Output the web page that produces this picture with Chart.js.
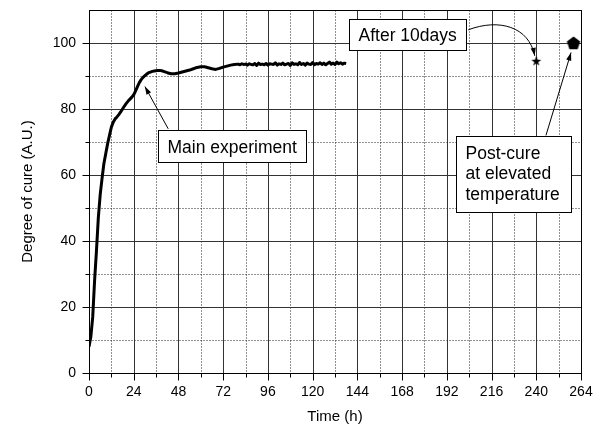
<!DOCTYPE html>
<html><head><meta charset="utf-8">
<script src="https://cdn.jsdelivr.net/npm/chart.js@4.4.1/dist/chart.umd.min.js"></script>
<style>html,body{margin:0;padding:0;background:#fff;}</style>
</head><body>
<canvas id="c" width="598" height="430" style="width:598px;height:430px;display:block"></canvas>
<script>
// ---- data ----
const timeH = [0,1,2,3,4,5,6,7,8,9,10,11,12,13,14,15,16,17,18,19,20,21,22,23,24,25,26,27,28,29,30,31,32,33,34,35,36,37,38,39,40,42,44,46,48,50,52,54,56,58,60,62,64,66,68,70,72,74,76,78,
80,81,82,83,84,85,86,87,88,89,90,91,92,93,94,95,96,97,98,99,100,101,102,103,104,105,106,107,108,109,110,111,112,113,114,115,116,117,118,119,120,121,122,123,124,125,126,127,128,129,130,131,132,133,134,135,136,137,138];
const cure = [8,11,17,28,37,47,54,59,63.5,66.5,69.5,72,74.5,76,77,77.6,78.3,79.1,80,80.9,81.7,82.4,83,83.6,84.3,85.5,86.8,88,88.9,89.6,90.1,90.6,91,91.2,91.4,91.5,91.6,91.7,91.7,91.6,91.4,91.0,90.7,90.7,90.9,91.2,91.5,91.8,92.2,92.6,92.8,92.8,92.5,92.2,92.0,92.3,92.7,93.0,93.3,93.5,
93.6,93.4,93.7,93.5,93.6,93.3,93.7,93.5,93.4,93.8,93.2,93.9,93.5,93.6,93.4,93.8,93.3,93.7,93.6,93.5,94.0,93.3,93.7,93.5,93.9,93.4,93.6,93.8,93.2,94.0,93.5,93.7,93.4,94.1,93.5,93.8,93.3,93.9,93.6,93.5,94.1,93.4,93.8,93.6,94.0,93.5,93.9,93.4,93.8,94.2,93.6,93.9,93.5,94.2,93.7,94.0,93.6,93.9,93.8];
const after10Days = [{x:240, y:94.6}];
const postCure = [{x:260, y:100}];
const xTicks = [0,24,48,72,96,120,144,168,192,216,240,264];
const xMinor = [12,36,60,84,108,132,156,180,204,228,252];
const yTicks = [0,20,40,60,80,100];
const yMinor = [10,30,50,70,90];
const xTitle = 'Time (h)';
const yTitle = 'Degree of cure (A.U.)';

const FONT = '"Liberation Sans", Arial, Helvetica, sans-serif';

// marker images
function makeStar(){
  const c=document.createElement('canvas'); c.width=12; c.height=12;
  const g=c.getContext('2d'); g.fillStyle='#000'; g.beginPath();
  for(let i=0;i<10;i++){const r=i%2?2.1:5.2; const a=-Math.PI/2+i*Math.PI/5; const px=6+r*Math.cos(a), py=6.5+r*Math.sin(a); i?g.lineTo(px,py):g.moveTo(px,py);}
  g.closePath(); g.fill(); return c;
}
function makePentagon(){
  const c=document.createElement('canvas'); c.width=16; c.height=16;
  const g=c.getContext('2d'); g.fillStyle='#000'; g.beginPath();
  for(let i=0;i<5;i++){const a=-Math.PI/2+i*2*Math.PI/5; const px=8+7*Math.cos(a), py=8.6+7*Math.sin(a); i?g.lineTo(px,py):g.moveTo(px,py);}
  g.closePath(); g.fill(); return c;
}

function arrowHead(ctx,x1,y1,ang){
  const L=8,W=2.6;
  ctx.beginPath();
  ctx.moveTo(x1,y1);
  ctx.lineTo(x1-L*Math.cos(ang)+W*Math.sin(ang), y1-L*Math.sin(ang)-W*Math.cos(ang));
  ctx.lineTo(x1-L*Math.cos(ang)-W*Math.sin(ang), y1-L*Math.sin(ang)+W*Math.cos(ang));
  ctx.closePath(); ctx.fill();
}

const gridPlugin = {
  id:'grid',
  beforeDatasetsDraw(chart){
    const {ctx, chartArea:a, scales:{x,y}} = chart;
    const L=Math.round(a.left)+0.5, R=Math.round(a.right)+0.5, T=Math.round(a.top)+0.5, B=Math.round(a.bottom)+0.5;
    ctx.save();
    ctx.lineWidth=1;
    // minor dotted
    ctx.strokeStyle='#222'; ctx.setLineDash([1,2]);
    xMinor.forEach(v=>{const p=Math.round(x.getPixelForValue(v))+0.5; ctx.beginPath(); ctx.moveTo(p,T); ctx.lineTo(p,B); ctx.stroke();});
    yMinor.forEach(v=>{const p=Math.round(y.getPixelForValue(v))+0.5; ctx.beginPath(); ctx.moveTo(L,p); ctx.lineTo(R,p); ctx.stroke();});
    ctx.setLineDash([]);
    ctx.strokeStyle='#333';
    xTicks.forEach(v=>{const p=Math.round(x.getPixelForValue(v))+0.5; ctx.beginPath(); ctx.moveTo(p,T); ctx.lineTo(p,B); ctx.stroke();});
    yTicks.forEach(v=>{const p=Math.round(y.getPixelForValue(v))+0.5; ctx.beginPath(); ctx.moveTo(L,p); ctx.lineTo(R,p); ctx.stroke();});
    // border
    ctx.strokeStyle='#000';
    ctx.strokeRect(L,T,R-L,B-T);
    // tick marks outside
    ctx.beginPath();
    xTicks.forEach(v=>{const p=Math.round(x.getPixelForValue(v))+0.5; ctx.moveTo(p,B); ctx.lineTo(p,B+7);});
    xMinor.forEach(v=>{const p=Math.round(x.getPixelForValue(v))+0.5; ctx.moveTo(p,B); ctx.lineTo(p,B+4);});
    yTicks.forEach(v=>{const p=Math.round(y.getPixelForValue(v))+0.5; ctx.moveTo(L,p); ctx.lineTo(L-7,p);});
    yMinor.forEach(v=>{const p=Math.round(y.getPixelForValue(v))+0.5; ctx.moveTo(L,p); ctx.lineTo(L-4,p);});
    ctx.stroke();
    ctx.restore();
  }
};

const annotPlugin = {
  id:'annot',
  afterDatasetsDraw(chart){
    const {ctx, scales:{x,y}} = chart;
    const X=v=>x.getPixelForValue(v), Y=v=>y.getPixelForValue(v);
    ctx.save();
    ctx.font='17.5px '+FONT; ctx.fillStyle='#000'; ctx.strokeStyle='#000'; ctx.lineWidth=1;
    ctx.textBaseline='alphabetic';
    function box(l,t,w,h,lines,dy){
      l=Math.round(l)+0.5; t=Math.round(t)+0.5;
      ctx.fillStyle='#fff'; ctx.fillRect(l,t,w,h); ctx.strokeRect(l,t,w,h);
      ctx.fillStyle='#000';
      lines.forEach((s,i)=>ctx.fillText(s,l+9,t+dy+i*20.5));
    }
    // Main experiment arrow
    const mx0=X(42.5), my0=Y(74), mx1=X(30), my1=Y(86.8);
    ctx.beginPath(); ctx.moveTo(mx0,my0); ctx.lineTo(mx1,my1); ctx.stroke();
    arrowHead(ctx,mx1,my1,Math.atan2(my1-my0,mx1-mx0));
    box(X(37.2),Y(73.7),148,32,['Main experiment'],22);
    // After 10days arrow (curved)
    const s=after10Days[0];
    const ax0=X(203.5), ay0=Y(104), ax1=X(s.x)-1.5, ay1=Y(s.y)-5;
    const c1x=X(220), c1y=Y(107.5), c2x=X(236), c2y=Y(105);
    ctx.beginPath(); ctx.moveTo(ax0,ay0); ctx.bezierCurveTo(c1x,c1y,c2x,c2y,ax1,ay1); ctx.stroke();
    arrowHead(ctx,ax1,ay1,Math.atan2(ay1-c2y,ax1-c2x));
    box(X(139.5),Y(107.3),117,31,['After 10days'],21);
    // Post-cure arrow
    const p=postCure[0];
    const px0=X(245.2), py0=Y(72), px1=X(p.x)-2.5, py1=Y(p.y)+9.5;
    ctx.beginPath(); ctx.moveTo(px0,py0); ctx.lineTo(px1,py1); ctx.stroke();
    arrowHead(ctx,px1,py1,Math.atan2(py1-py0,px1-px0));
    box(X(196.9),Y(71.9),115,76,['Post-cure','at elevated','temperature'],22);
    ctx.restore();
  }
};

Chart.defaults.font.family = FONT;
Chart.defaults.color = '#000';

new Chart(document.getElementById('c'), {
  type:'scatter',
  data:{datasets:[
    {data: timeH.map((t,i)=>({x:t,y:cure[i]})), showLine:true, borderColor:'#000', borderWidth:3, pointRadius:0, tension:0, borderJoinStyle:'round'},
    {data: after10Days, pointStyle: makeStar(), pointRadius:5, clip:false},
    {data: postCure, pointStyle: makePentagon(), pointRadius:7, clip:false}
  ]},
  options:{
    responsive:false, animation:false, events:[],
    layout:{padding:{top:10,right:17,left:0,bottom:0}},
    plugins:{legend:{display:false}, tooltip:{enabled:false}},
    scales:{
      x:{type:'linear', min:0, max:264,
        afterBuildTicks(s){ s.ticks = xTicks.map(v=>({value:v})); },
        afterFit(s){ s.height = 57; s.paddingLeft = 0; s.paddingRight = 0; },
        grid:{display:false, drawTicks:false}, border:{display:false},
        ticks:{font:{size:14}, padding:11, maxRotation:0, autoSkip:false},
        title:{display:true, text:xTitle, font:{size:15}, padding:{top:0,bottom:4}}
      },
      y:{type:'linear', min:0, max:110,
        afterBuildTicks(s){ s.ticks = yTicks.map(v=>({value:v})); },
        afterFit(s){ s.width = 89; s.paddingTop = 0; s.paddingBottom = 0; },
        grid:{display:false, drawTicks:false}, border:{display:false},
        ticks:{font:{size:14}, padding:13},
        title:{display:true, text:yTitle, font:{size:15}, padding:{top:19,bottom:0}}
      }
    }
  },
  plugins:[gridPlugin, annotPlugin]
});
</script>
</body></html>
